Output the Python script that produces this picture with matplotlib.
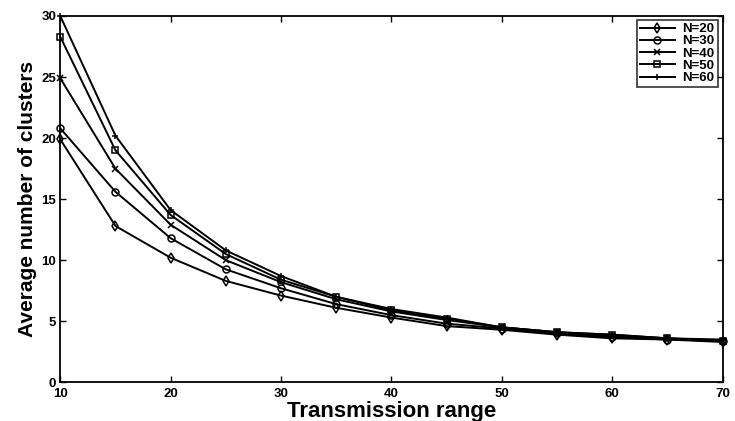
import matplotlib
matplotlib.use("Agg")
import matplotlib.pyplot as plt

x = [10, 15, 20, 25, 30, 35, 40, 45, 50, 55, 60, 65, 70]
n20 = [19.9, 12.8, 10.2, 8.3, 7.1, 6.1, 5.3, 4.6, 4.3, 3.9, 3.6, 3.5, 3.3]
n30 = [20.8, 15.6, 11.8, 9.25, 7.7, 6.4, 5.5, 4.8, 4.4, 4.0, 3.7, 3.5, 3.4]
n40 = [24.9, 17.5, 12.9, 10.0, 8.2, 6.8, 5.8, 5.1, 4.5, 4.1, 3.8, 3.6, 3.4]
n50 = [28.3, 19.0, 13.7, 10.5, 8.4, 7.0, 5.9, 5.2, 4.5, 4.1, 3.9, 3.6, 3.4]
n60 = [30.0, 20.2, 14.1, 10.8, 8.7, 7.0, 6.0, 5.3, 4.5, 4.1, 3.9, 3.6, 3.5]
labels = ["N=20", "N=30", "N=40", "N=50", "N=60"]
markers = ["d", "o", "x", "s", "+"]
xticks = [10, 20, 30, 40, 50, 60, 70]
yticks = [0, 5, 10, 15, 20, 25, 30]

fam = ["Liberation Sans", "DejaVu Sans"]
plt.rcParams["font.family"] = fam

fig = plt.figure(figsize=(7.35, 4.21), dpi=100)
ax = fig.add_axes([0.082, 0.092, 0.901, 0.870])

for ys, lab, m in zip([n20, n30, n40, n50, n60], labels, markers):
    ax.plot(x, ys, color="black", linewidth=1.4, marker=m, markersize=5,
            markerfacecolor="none", markeredgecolor="black", markeredgewidth=1.1,
            label=lab, clip_on=False)

ax.set_xlim(10, 70)
ax.set_ylim(0, 30)
ax.set_xticks(xticks)
ax.set_yticks(yticks)
ax.tick_params(axis="both", direction="in", top=True, right=True, length=4, width=1)
ax.tick_params(axis="x", pad=4)
ax.tick_params(axis="y", pad=3)
for lbl in ax.get_xticklabels() + ax.get_yticklabels():
    lbl.set_fontweight("bold")
    lbl.set_fontsize(9.5)
for s in ax.spines.values():
    s.set_linewidth(1.3)

ax.set_xlabel("Transmission range", fontsize=16, fontweight="bold", labelpad=1)
ax.set_ylabel("Average number of clusters", fontsize=15, fontweight="bold",
              labelpad=3)

leg = ax.legend(loc="upper right", fontsize=9.5, frameon=True, fancybox=False,
                edgecolor="black", borderaxespad=0.0, handlelength=2.6,
                labelspacing=0.0, borderpad=0.25, handletextpad=0.6,
                bbox_to_anchor=(0.993, 0.99))
leg.get_frame().set_linewidth(1.2)
for t in leg.get_texts():
    t.set_fontweight("bold")

fig.savefig("out.png", dpi=100)
